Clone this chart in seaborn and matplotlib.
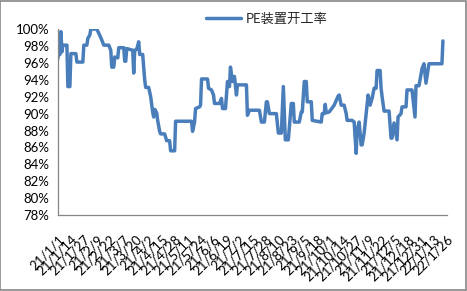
import matplotlib
matplotlib.use("Agg")
import matplotlib.pyplot as plt
import seaborn as sns
import pandas as pd
from matplotlib.patches import Rectangle

start_date = "2021-01-01"
end_date = "2022-01-26"
series_name = "PE装置开工率"

# days since 2021-01-01
day_offsets = [0, 1, 2, 3, 4, 5, 9, 10, 12, 13, 18, 19, 25, 26, 29, 30, 32, 33, 39, 43,
               46, 51, 53, 54, 56, 57, 60, 61, 66, 67, 68, 69, 75, 76, 77, 79, 81, 82, 85, 87,
               88, 91, 93, 94, 95, 96, 97, 99, 100, 102, 103, 107, 109, 112, 113, 117, 118, 134, 135, 137,
               138, 142, 143, 144, 150, 151, 154, 156, 157, 162, 164, 165, 168, 170, 172, 173, 175, 177, 179, 180,
               189, 190, 192, 202, 204, 207, 209, 210, 212, 219, 221, 224, 226, 228, 231, 234, 236, 237, 242, 244,
               245, 247, 249, 250, 254, 255, 264, 265, 267, 268, 269, 272, 277, 281, 282, 284, 287, 289, 290, 295,
               297, 299, 300, 302, 304, 305, 307, 309, 311, 313, 315, 317, 319, 320, 323, 324, 325, 327, 332, 334,
               335, 337, 340, 341, 344, 345, 349, 350, 355, 358, 359, 362, 365, 367, 369, 372, 385, 386]
rates = [96.5, 98.0, 97.0, 99.7, 97.3, 98.1, 98.1, 93.2, 93.2, 97.1, 97.1, 96.1, 96.1, 98.1, 98.1, 98.9, 99.3, 100.0, 100.0, 99.0,
         98.1, 98.1, 97.5, 95.5, 95.5, 96.7, 96.6, 97.8, 97.8, 96.2, 96.2, 97.7, 97.5, 94.8, 97.5, 97.6, 98.5, 97.0, 97.0, 94.0,
         93.1, 93.1, 92.0, 91.1, 90.2, 89.6, 90.5, 90.1, 89.2, 87.9, 87.6, 87.6, 86.8, 86.8, 85.6, 85.6, 89.1, 89.1, 87.9, 89.0,
         90.6, 90.8, 91.0, 94.1, 94.1, 93.0, 92.8, 92.2, 91.2, 91.2, 91.8, 90.6, 90.6, 93.8, 93.2, 95.5, 93.8, 94.4, 92.2, 93.4,
         93.4, 89.8, 90.4, 90.4, 89.0, 89.0, 91.4, 91.4, 90.0, 90.0, 87.7, 87.7, 93.2, 86.9, 86.9, 91.2, 91.2, 89.0, 89.0, 90.2,
         90.2, 93.8, 93.8, 91.4, 91.4, 89.2, 89.0, 90.0, 90.0, 91.1, 90.1, 90.2, 91.0, 92.1, 92.2, 91.0, 91.0, 90.0, 89.2, 89.2,
         89.0, 85.3, 88.0, 89.0, 86.3, 86.3, 87.7, 90.0, 92.2, 91.0, 91.8, 93.0, 93.0, 95.1, 95.1, 93.0, 92.0, 90.3, 90.3, 87.1,
         87.1, 88.9, 86.9, 89.6, 90.0, 90.8, 90.8, 92.8, 92.8, 89.6, 93.3, 93.3, 95.3, 95.9, 93.6, 95.9, 95.9, 98.6]

tick_labels = ["21/1/1", "21/1/14", "21/1/27", "21/2/9", "21/2/22", "21/3/7", "21/3/20", "21/4/2",
               "21/4/15", "21/4/28", "21/5/11", "21/5/24", "21/6/6", "21/6/19", "21/7/2", "21/7/15",
               "21/7/28", "21/8/10", "21/8/23", "21/9/5", "21/9/18", "21/10/1", "21/10/14", "21/10/27",
               "21/11/9", "21/11/22", "21/12/5", "21/12/18", "21/12/31", "22/1/13", "22/1/26"]
y_ticks = [78, 80, 82, 84, 86, 88, 90, 92, 94, 96, 98, 100]

sns.set_theme(style="white")
plt.rcParams["font.family"] = ["Lato", "Noto Sans CJK SC", "DejaVu Sans"]

df = pd.DataFrame({
    "date": pd.Timestamp(start_date) + pd.to_timedelta(day_offsets, unit="D"),
    "rate": rates,
})

fig = plt.figure(figsize=(4.67, 2.91), dpi=100)
ax = fig.add_axes([0.124, 0.261, 0.833, 0.639])
sns.lineplot(data=df, x="date", y="rate", ax=ax, color="#4A7EBB", linewidth=2.5,
             label=series_name)

tick_dates = [pd.Timestamp(start_date) + pd.Timedelta(days=13 * i) for i in range(len(tick_labels))]
ax.set_xlim(pd.Timestamp(start_date), pd.Timestamp(end_date))
ax.set_xticks(tick_dates)
ax.set_xticklabels(tick_labels, rotation=45, ha="right", va="top", rotation_mode="anchor",
                   fontsize=9.5, color="black")
ax.set_ylim(78, 100)
ax.set_yticks(y_ticks)
ax.set_yticklabels([f"{v}%" for v in y_ticks], fontsize=9.5, color="black")
ax.set_xlabel("")
ax.set_ylabel("")

for s in ["top", "right"]:
    ax.spines[s].set_visible(False)
for s in ["left", "bottom"]:
    ax.spines[s].set_color("#868686")
    ax.spines[s].set_linewidth(0.9)
ax.tick_params(axis="x", direction="out", length=4, width=0.8, color="#868686", pad=9)
ax.tick_params(axis="y", direction="out", length=3, width=0.8, color="#868686", pad=3)

leg = ax.legend(loc="center", bbox_to_anchor=(0.572, 0.935), bbox_transform=fig.transFigure,
                frameon=False, fontsize=9.5, handlelength=2.6, handletextpad=0.4)

fig.patches.append(Rectangle((0.001, 0.002), 0.997, 0.995, transform=fig.transFigure,
                             fill=False, edgecolor="#868686", linewidth=1.2))

fig.savefig("out.png", dpi=100)
